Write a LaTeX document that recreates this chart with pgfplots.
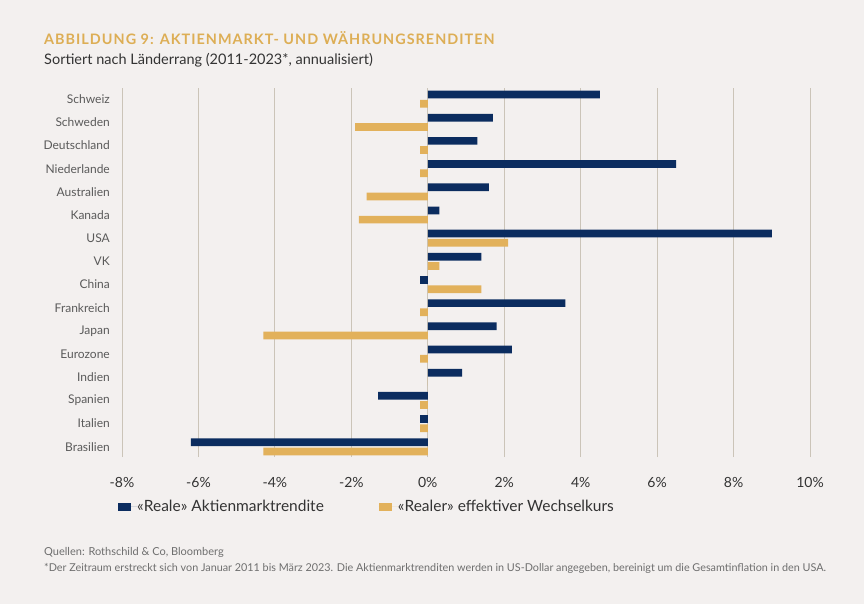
\documentclass[border=0pt]{standalone}
\usepackage{pgfplots}
\pgfplotsset{compat=1.18}
\usepackage{fontspec}
\setmainfont{Lato}
\newfontfamily\titlefont[LetterSpace=7]{Lato}
\definecolor{bgcol}{HTML}{F3F0EF}
\definecolor{navy}{HTML}{0B2C5F}
\definecolor{gold}{HTML}{E2B15B}
\definecolor{titlegold}{HTML}{DDAE55}
\definecolor{gridcol}{HTML}{CBC4B8}
\definecolor{txt}{HTML}{333333}
\definecolor{lbl}{HTML}{5A5A5A}
\definecolor{foot}{HTML}{6E6E6E}
\begin{document}
\begin{tikzpicture}[x=1pt,y=1pt]
\fill[bgcol] (0,0) rectangle (864,-604);
\useasboundingbox (0,0) rectangle (864,-604);
\node[anchor=base west, inner sep=0pt, text=titlegold] at (44,-45) {\titlefont\fontsize{14.4}{16}\selectfont\bfseries ABBILDUNG 9: AKTIENMARKT- UND WÄHRUNGSRENDITEN};
\node[anchor=base west, inner sep=0pt, text=txt] at (44,-65) {\fontsize{14.5}{17}\selectfont Sortiert nach Länderrang (2011-2023*, annualisiert)};
\node[anchor=base west, inner sep=0pt, text=foot] at (44,-555) {\fontsize{11}{13}\selectfont Quellen: Rothschild \& Co, Bloomberg};
\node[anchor=base west, inner sep=0pt, text=foot] at (44,-571) {\fontsize{10.8}{13}\selectfont *Der Zeitraum erstreckt sich von Januar 2011 bis März 2023. Die Aktienmarktrenditen werden in US-Dollar angegeben, bereinigt um die Gesamtinflation in den USA.};
\begin{axis}[
  at={(122pt,-457pt)}, anchor=south west,
  scale only axis, width=688pt, height=369pt,
  xbar, bar width=7.7pt,
  xmin=-8, xmax=10, ymin=-0.44, ymax=15.48,
  axis line style={draw=none},
  tick style={draw=none},
  xmajorgrids, grid style={gridcol, line width=0.8pt},
  xtick={-8,-6,...,10},
  xticklabels={-8\%,-6\%,-4\%,-2\%,0\%,2\%,4\%,6\%,8\%,10\%},
  xticklabel style={anchor=north, inner sep=0pt, text=txt, font=\fontsize{14}{16}\selectfont},
  xticklabel shift=20pt,
  ytick={0,...,15},
  yticklabels={Brasilien,Italien,Spanien,Indien,Eurozone,Japan,Frankreich,China,VK,USA,Kanada,Australien,Niederlande,Deutschland,Schweden,Schweiz},
  yticklabel style={anchor=east, inner sep=0pt, text=lbl, font=\fontsize{12}{14}\selectfont},
  yticklabel shift=12pt,
  major tick length=0pt,
  legend columns=2,
  legend style={at={(0,0)}, anchor=north west, xshift=-4pt, yshift=-43pt, draw=none, fill=none, inner sep=0pt,
    font=\fontsize{15.5}{17}\selectfont, text=txt,
    nodes={inner sep=0pt},
    /tikz/every even column/.append style={column sep=55pt}},
  legend image code/.code={\fill[#1] (0pt,-4pt) rectangle (13pt,4pt); \path (0pt,0pt) -- (19pt,0pt);},
  clip=false,
]
\addplot[draw=none, fill=navy, bar shift=4.6pt] coordinates {
(4.5,15) (1.7,14) (1.3,13) (6.5,12) (1.6,11) (0.3,10) (9.0,9) (1.4,8)
(-0.2,7) (3.6,6) (1.8,5) (2.2,4) (0.9,3) (-1.3,2) (-0.2,1) (-6.2,0)};
\addlegendentry{«Reale» Aktienmarktrendite}
\addplot[draw=none, fill=gold, bar shift=-4.6pt] coordinates {
(-0.2,15) (-1.9,14) (-0.2,13) (-0.2,12) (-1.6,11) (-1.8,10) (2.1,9) (0.3,8)
(1.4,7) (-0.2,6) (-4.3,5) (-0.2,4) (0,3) (-0.2,2) (-0.2,1) (-4.3,0)};
\addlegendentry{«Realer» effektiver Wechselkurs}
\end{axis}
\end{tikzpicture}
\end{document}
